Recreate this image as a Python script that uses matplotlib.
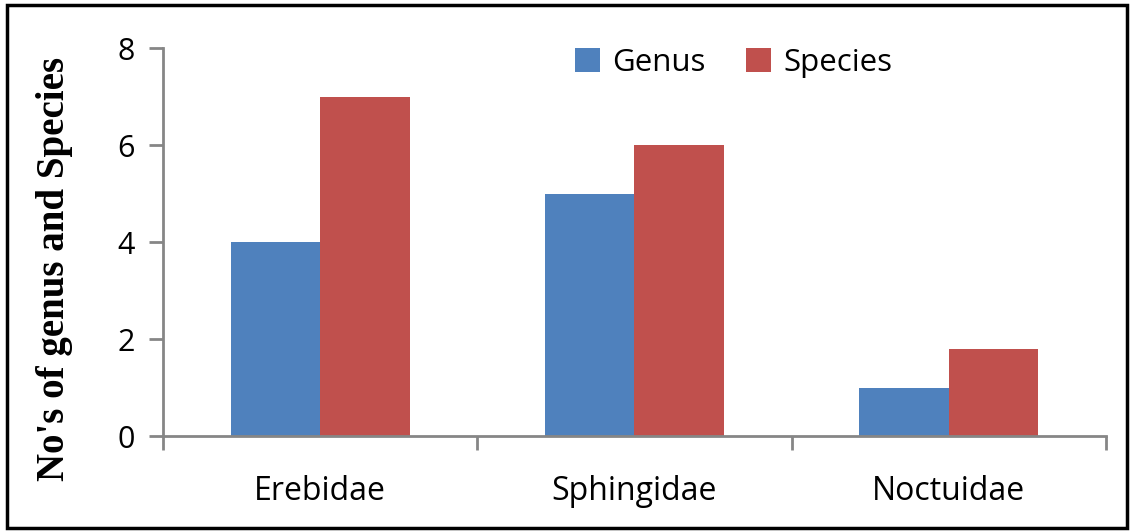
import matplotlib
matplotlib.use("Agg")
import matplotlib.pyplot as plt
import numpy as np
from matplotlib.patches import Rectangle

families = ["Erebidae", "Sphingidae", "Noctuidae"]
genus = [4, 5, 1]
species = [7, 6, 1.8]

blue = "#4F81BD"
red = "#C0504D"
grey = "#868686"

plt.rcParams["font.family"] = ["Open Sans", "DejaVu Sans"]

fig = plt.figure(figsize=(11.34, 5.31), dpi=100)
ax = fig.add_axes([0.1437, 0.1789, 0.8316, 0.7307])

x = np.arange(len(families))
w = 0.285
ax.bar(x - w / 2, genus, w, color=blue, label="Genus")
ax.bar(x + w / 2, species, w, color=red, label="Species")

ax.set_xlim(-0.5, 2.5)
ax.set_ylim(0, 8)
ax.set_yticks([0, 2, 4, 6, 8])

# x ticks sit between categories, labels centred under groups
ax.set_xticks([-0.5, 0.5, 1.5, 2.5])
ax.set_xticklabels([])
ax.set_xticks(x, minor=True)
ax.set_xticklabels(families, minor=True)
ax.tick_params(axis="x", which="minor", length=0, pad=28, labelsize=23)
ax.tick_params(axis="x", which="major", length=10, width=2, color=grey, direction="out")
ax.tick_params(axis="y", length=10, width=2, color=grey, direction="out", labelsize=22, pad=10)

for s in ["top", "right"]:
    ax.spines[s].set_visible(False)
for s in ["left", "bottom"]:
    ax.spines[s].set_color(grey)
    ax.spines[s].set_linewidth(2)

ax.set_ylabel("No's of genus and Species", family="Liberation Serif",
              fontweight="bold", fontsize=28)
ax.yaxis.set_label_coords(-0.095, 0.43)

ax.legend(loc="center", bbox_to_anchor=(0.647, 0.882), bbox_transform=fig.transFigure,
          ncol=2, frameon=False, fontsize=22.5, handlelength=0.8, handleheight=0.8,
          handletextpad=0.4, columnspacing=1.3)

fig.patches.append(Rectangle((0.006, 0.006), 0.988, 0.984, transform=fig.transFigure,
                             fill=False, edgecolor="black", linewidth=2.5))

fig.savefig("out.png", dpi=100)
